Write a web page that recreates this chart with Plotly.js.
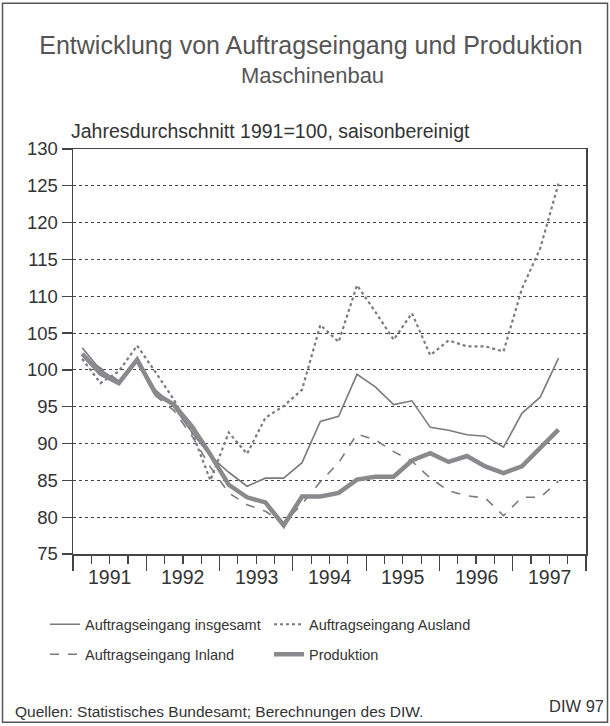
<!DOCTYPE html>
<html><head><meta charset="utf-8">
<script src="https://cdn.plot.ly/plotly-3.0.1.min.js"></script>
<style>html,body{margin:0;padding:0;background:#fff}#chart{width:610px;height:726px}</style>
</head><body><div id="chart"></div>
<script>
// Quarterly periods (year-quarter)
const periods = ["1991-1","1991-2","1991-3","1991-4","1992-1","1992-2","1992-3","1992-4",
  "1993-1","1993-2","1993-3","1993-4","1994-1","1994-2","1994-3","1994-4",
  "1995-1","1995-2","1995-3","1995-4","1996-1","1996-2","1996-3","1996-4",
  "1997-1","1997-2","1997-3"];
const insgesamt = [103.0,100.0,98.4,101.5,97.3,95.0,91.5,88.3,86.1,84.2,85.3,85.3,87.4,93.0,93.7,99.4,97.7,95.3,95.8,92.2,91.8,91.2,91.0,89.5,94.1,96.3,101.6];
const ausland   = [101.5,98.2,99.8,103.3,99.7,96.0,91.5,85.0,91.5,88.6,93.5,95.1,97.3,106.1,103.8,111.5,107.9,104.1,107.7,102.0,104.0,103.2,103.2,102.5,111.0,116.5,125.3];
const inland    = [102.0,100.3,98.5,101.0,96.5,94.5,91.0,86.8,83.3,81.7,80.8,79.2,81.8,84.8,87.4,91.3,90.5,88.9,87.6,85.3,83.6,82.9,82.6,80.2,82.7,82.7,84.9];
const produktion= [102.2,99.5,98.2,101.4,96.8,95.3,92.3,88.5,84.4,82.7,82.0,78.9,82.8,82.8,83.3,85.1,85.5,85.5,87.7,88.7,87.5,88.3,86.9,86.0,86.9,89.4,91.9];
const years = ["1991","1992","1993","1994","1995","1996","1997"];
const seriesNames = ["Auftragseingang insgesamt","Auftragseingang Ausland","Auftragseingang Inland","Produktion"];

const x = periods.map(p => { const [y,q] = p.split("-").map(Number); return y + (q - 0.5) / 4; });
const grey = "#7b7a80";
const font = "Liberation Sans, Arial, sans-serif";
const traces = [
  {x, y: insgesamt, name: seriesNames[0], mode: "lines", line: {color: grey, width: 1.6}, legend: "legend"},
  {x, y: ausland, name: seriesNames[1], mode: "lines", line: {color: grey, width: 2.2, dash: "dot"}, legend: "legend"},
  {x, y: inland, name: seriesNames[2], mode: "lines", line: {color: grey, width: 1.6, dash: "dash"}, legend: "legend2"},
  {x, y: produktion, name: seriesNames[3], mode: "lines", line: {color: "#8a898c", width: 4.5}, legend: "legend2"}
];
const T = 148.6, B = 554.5, L = 73, R = 586, H = B - T, W = R - L;
const py = v => (B - v) / H, px = v => (v - L) / W;
const ann = years.map(y => ({x: Number(y) + 0.5, xref: "x", y: py(578), yref: "paper", text: y, showarrow: false,
  font: {family: font, size: 19.5, color: "#333"}, xanchor: "center", yanchor: "middle"}));
ann.push({x: px(312), xref: "paper", y: py(75), yref: "paper", text: "Maschinenbau", showarrow: false, font: {family: font, size: 22, color: "#555"}, xanchor: "center", yanchor: "middle"});
ann.push({x: px(69), xref: "paper", y: py(131), yref: "paper", text: "Jahresdurchschnitt 1991=100, saisonbereinigt", showarrow: false, font: {family: font, size: 19.5, color: "#333"}, xanchor: "left", yanchor: "middle"});
ann.push({x: px(13), xref: "paper", y: py(712), yref: "paper", text: "Quellen: Statistisches Bundesamt; Berechnungen des DIW.", showarrow: false, font: {family: font, size: 15.5, color: "#333"}, xanchor: "left", yanchor: "middle"});
ann.push({x: px(606), xref: "paper", y: py(707), yref: "paper", text: "DIW 97", showarrow: false, font: {family: font, size: 16.5, color: "#333"}, xanchor: "right", yanchor: "middle"});

const layout = {
  width: 610, height: 726,
  margin: {l: L, r: 610 - R, t: T, b: 726 - B},
  paper_bgcolor: "#fff", plot_bgcolor: "#fff",
  font: {family: font, color: "#333"},
  title: {text: "Entwicklung von Auftragseingang und Produktion", x: px(311), xanchor: "center", xref: "paper", y: 1 - 45/726, yanchor: "middle", font: {family: font, size: 25, color: "#555"}},
  xaxis: {range: [1991, 1998], tickvals: [1991,1992,1993,1994,1995,1996,1997,1998], ticks: "outside", ticklen: 15, tickcolor: "#444", tickwidth: 1.2,
    showticklabels: false, showgrid: false, zeroline: false, showline: true, linecolor: "#444", linewidth: 1.5, mirror: true,
    minor: {tick0: 1991, dtick: 0.25, ticks: "outside", ticklen: 8, tickcolor: "#444", tickwidth: 1.2, showgrid: false}},
  yaxis: {range: [75, 130], dtick: 5, tick0: 75, ticks: "outside", ticklen: 10, tickcolor: "#444", tickwidth: 1.2,
    showgrid: true, gridcolor: "#444", griddash: "dot", gridwidth: 1, zeroline: false, showline: true, linecolor: "#444", linewidth: 1.5, mirror: true,
    tickfont: {family: font, size: 18.5, color: "#333"}},
  legend: {orientation: "h", x: px(45), xanchor: "left", y: py(625), yanchor: "middle", entrywidth: 179, entrywidthmode: "pixels",
    font: {family: font, size: 14.5, color: "#333"}, bgcolor: "rgba(0,0,0,0)"},
  legend2: {orientation: "h", x: px(45), xanchor: "left", y: py(655), yanchor: "middle", entrywidth: 179, entrywidthmode: "pixels",
    font: {family: font, size: 14.5, color: "#333"}, bgcolor: "rgba(0,0,0,0)"},
  showlegend: true,
  annotations: ann,
  shapes: [{type: "rect", xref: "paper", yref: "paper", x0: px(2.5), x1: px(607.5), y0: py(723), y1: py(2.5), line: {color: "#555", width: 1.5}}]
};
Plotly.newPlot("chart", traces, layout, {displayModeBar: false, staticPlot: true});
</script></body></html>
